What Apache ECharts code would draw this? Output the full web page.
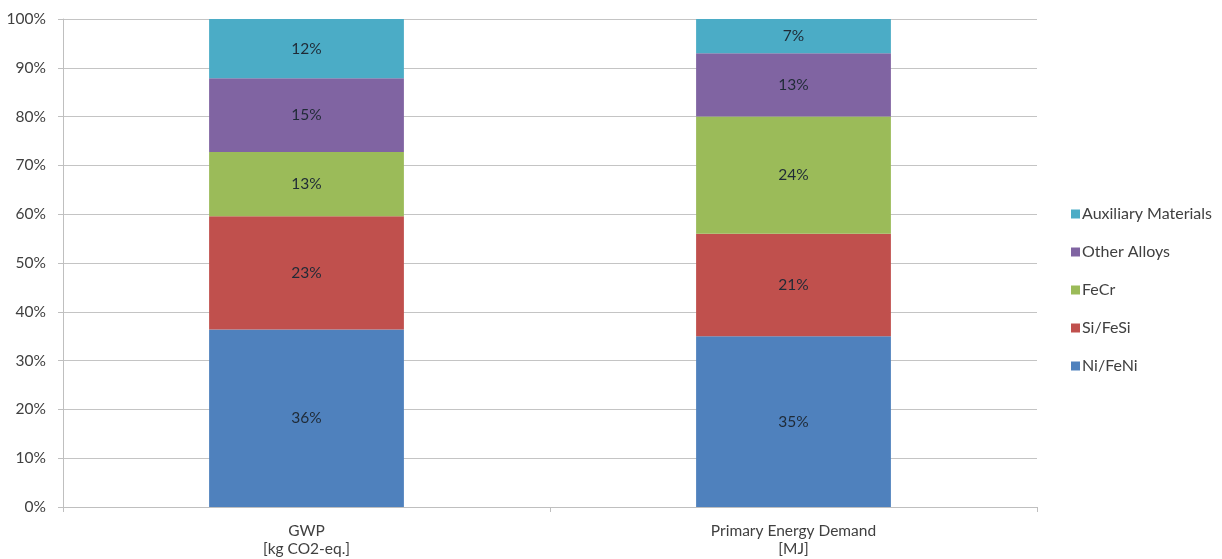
<!DOCTYPE html>
<html>
<head>
<meta charset="utf-8">
<style>
  html, body { margin: 0; padding: 0; background: #ffffff; }
  #chart { width: 1222px; height: 559px; }
</style>
<script src="https://cdn.jsdelivr.net/npm/echarts@6/dist/echarts.min.js"></script>
</head>
<body>
<div id="chart"></div>
<script>
// Impact categories on the x axis
const categories = ['GWP\n[kg CO2-eq.]', 'Primary Energy Demand\n[MJ]'];

// Contribution of each material group (percent, per category)
const niFeNi = [36, 35];
const siFeSi = [23, 21];
const feCr = [13, 24];
const otherAlloys = [15, 13];
const auxiliaryMaterials = [12, 7];

// Y axis tick labels
const yTicks = [0, 10, 20, 30, 40, 50, 60, 70, 80, 90, 100];

const groups = [
  { name: 'Ni/FeNi', values: niFeNi, color: '#4f81bd' },
  { name: 'Si/FeSi', values: siFeSi, color: '#c0504d' },
  { name: 'FeCr', values: feCr, color: '#9bbb59' },
  { name: 'Other Alloys', values: otherAlloys, color: '#8064a2' },
  { name: 'Auxiliary Materials', values: auxiliaryMaterials, color: '#4bacc6' }
];

// 100% stacked: each column is scaled to the sum of its parts
const totals = categories.map((_, i) => groups.reduce((s, g) => s + g.values[i], 0));

const font = 'Lato, "Open Sans", "DejaVu Sans", sans-serif';
const textColor = '#404040';
const fs = 15.5;

const series = groups.map(g => ({
  name: g.name,
  type: 'bar',
  stack: 'share',
  barWidth: '40%',
  itemStyle: { color: g.color },
  label: {
    show: true,
    position: 'inside',
    color: '#1f2a36',
    fontFamily: font,
    fontSize: fs,
    formatter: p => g.values[p.dataIndex] + '%'
  },
  emphasis: { disabled: true },
  data: g.values.map((v, i) => v / totals[i] * 100)
}));

const chart = echarts.init(document.getElementById('chart'));
chart.setOption({
  backgroundColor: '#ffffff',
  animation: false,
  grid: { left: 63, right: 185, top: 19, bottom: 52, containLabel: false },
  legend: {
    orient: 'vertical',
    left: 1066,
    top: 200,
    itemWidth: 9,
    itemHeight: 9,
    itemGap: 20,
    icon: 'rect',
    textStyle: { color: textColor, fontFamily: font, fontSize: 16, lineHeight: 18, padding: [0, 0, 0, -3] },
    data: groups.map(g => g.name).reverse()
  },
  xAxis: {
    type: 'category',
    data: categories,
    axisLine: { lineStyle: { color: '#bfbfbf', width: 1 } },
    axisTick: { show: true, length: 5, lineStyle: { color: '#bfbfbf' } },
    axisLabel: {
      color: textColor,
      fontFamily: font,
      fontSize: fs,
      lineHeight: 18,
      margin: 15
    }
  },
  yAxis: {
    type: 'value',
    min: yTicks[0],
    max: yTicks[yTicks.length - 1],
    interval: yTicks[1] - yTicks[0],
    axisLine: { show: true, lineStyle: { color: '#bfbfbf', width: 1 } },
    axisTick: { show: true, length: 5, lineStyle: { color: '#bfbfbf' } },
    splitLine: { lineStyle: { color: '#c4c4c4', width: 1 } },
    axisLabel: {
      color: textColor,
      fontFamily: font,
      fontSize: fs,
      margin: 17,
      formatter: v => v + '%'
    }
  },
  series: series
});
</script>
</body>
</html>
